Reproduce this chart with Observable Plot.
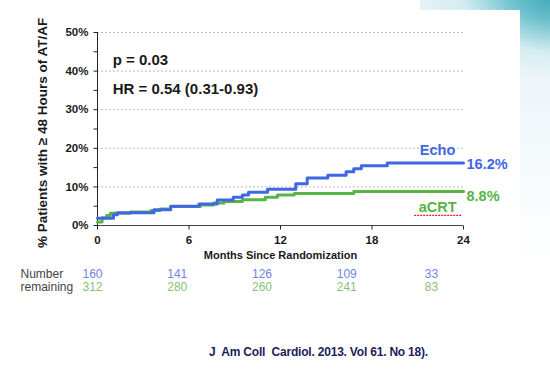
<!DOCTYPE html>
<html>
<head>
<meta charset="utf-8">
<script src="https://cdn.jsdelivr.net/npm/d3@7"></script>
<script src="https://cdn.jsdelivr.net/npm/@observablehq/plot@0.6"></script>
<style>
  html, body { margin: 0; padding: 0; background: #fff; }
  #page { position: relative; width: 550px; height: 386px; overflow: hidden;
    font-family: "Liberation Sans", Arial, sans-serif;
    background:
      radial-gradient(ellipse 140px 90px at 560px -10px, #2f9fb0 0%, #6cc0cc 35%, rgba(200,232,238,0.6) 70%, rgba(255,255,255,0) 100%),
      linear-gradient(to bottom, #e6f1f6 0%, #ffffff 70%);
  }
  #panel { position: absolute; left: 0; top: 10px; width: 520px; height: 376px; background: #fff; }
  #panel2 { position: absolute; left: 0; top: 0; width: 420px; height: 12px; background: #fff; }
  #main { position: absolute; left: 0; top: 0; }
  #table { position: absolute; left: 0; top: 265px; }
  #cite { position: absolute; left: 209px; top: 345px; font-size: 12px; color: #1c1c5c;
    font-weight: bold; letter-spacing: -0.2px; white-space: pre; }
</style>
</head>
<body>
<div id="page">
  <div id="panel"></div>
  <div id="panel2"></div>
  <div id="main"></div>
  <div id="table"></div>
  <div id="cite">J  Am Coll  Cardiol. 2013. Vol 61. No 18).</div>
</div>
<script>
// Echo (blue) cumulative incidence, steps: month, percent
const echoMonths = [0, 1.05, 1.3, 3.7, 4.8, 6.65, 7.85, 8.9, 9.5, 9.9, 11.15, 13.0, 13.75, 15.1, 16.3, 16.8, 17.3, 19.0, 24];
const echoValues = [1.9, 2.8, 3.3, 4.1, 5.0, 5.6, 6.6, 7.3, 7.9, 8.6, 9.4, 10.8, 12.3, 13.0, 13.9, 14.7, 15.5, 16.2, 16.2];
// aCRT (green)
const acrtMonths = [0, 0.3, 0.6, 0.85, 2.15, 3.5, 4.1, 4.8, 6.75, 7.6, 8.3, 9.5, 11.0, 11.8, 12.9, 16.8, 24];
const acrtValues = [0.9, 2.0, 2.6, 3.2, 3.5, 3.9, 4.3, 4.9, 5.3, 5.8, 6.2, 6.7, 7.3, 7.9, 8.3, 8.8, 8.8];

const xTicks = [0, 6, 12, 18, 24];
const yTicks = [0, 10, 20, 30, 40, 50];
const yMinorTicks = [5, 15, 25, 35, 45];

const numberMonths = [0, 6, 12, 18, 24];
const echoRemaining = [160, 141, 126, 109, 33];
const acrtRemaining = [312, 280, 260, 241, 83];

const statLines = ["p = 0.03", "HR = 0.54 (0.31-0.93)"];
const yLabel = "% Patients with \u2265 48 Hours of AT/AF";
const xLabel = "Months Since Randomization";

const blue = "#3f67e4";
const green = "#56b545";

const echo = echoMonths.map((m, i) => ({month: m, value: echoValues[i]}));
const acrt = acrtMonths.map((m, i) => ({month: m, value: acrtValues[i]}));

const font = "Liberation Sans, Arial, sans-serif";
const hTick = {draw(ctx) { ctx.moveTo(-4, 0); ctx.lineTo(0, 0); }};
const vTick = {draw(ctx) { ctx.moveTo(0, 0); ctx.lineTo(0, 4); }};

const main = Plot.plot({
  width: 550,
  height: 265,
  marginLeft: 97,
  marginRight: 87,
  marginTop: 32,
  marginBottom: 40,
  style: {fontFamily: font, background: "transparent", overflow: "visible"},
  x: {type: "linear", domain: [0, 24], axis: null},
  y: {type: "linear", domain: [0, 50], axis: null},
  marks: [
    Plot.ruleY(yTicks.filter(d => d > 0), {y: d => d, stroke: "#bbb", strokeDasharray: "2,2", strokeWidth: 1}),
    Plot.ruleX([0], {x: d => d, stroke: "#222", strokeWidth: 1}),
    Plot.ruleY([0], {y: d => d, stroke: "#444", strokeWidth: 1}),
    Plot.dot(yTicks.concat(yMinorTicks), {x: () => 0, y: d => d, symbol: hTick, stroke: "#222", r: 4, strokeWidth: 1}),
    Plot.dot(xTicks, {x: d => d, y: () => 0, symbol: vTick, stroke: "#222", r: 4, strokeWidth: 1}),
    Plot.text(yTicks, {x: () => 0, y: d => d, text: d => d + "%", textAnchor: "end", dx: -9, fontSize: 11.5, fontWeight: "bold", fill: "#1a1a1a"}),
    Plot.text(xTicks, {x: d => d, y: () => 0, text: d => String(d), dy: 15, fontSize: 11.5, fontWeight: "bold", fill: "#1a1a1a"}),
    Plot.text([xLabel], {x: () => 12, y: () => 0, dy: 30, text: d => d, fontSize: 11, fontWeight: "bold", fill: "#1a1a1a"}),
    Plot.text([yLabel], {x: () => 0, y: () => 24, dx: -55, rotate: -90, text: d => d, fontSize: 13.5, fontWeight: "bold", fill: "#1a1a1a"}),
    Plot.line(acrt, {x: "month", y: "value", curve: "step-after", stroke: green, strokeWidth: 3}),
    Plot.line(echo, {x: "month", y: "value", curve: "step-after", stroke: blue, strokeWidth: 3}),
    Plot.text(statLines, {x: () => 1, y: (d, i) => [42.7, 35.4][i], text: d => d, textAnchor: "start", fontSize: 15, fontWeight: "bold", fill: "#1a1a1a"}),
    Plot.text([echo[echo.length - 1]], {x: "month", y: "value", text: d => d.value.toFixed(1) + "%", textAnchor: "start", dx: 3, dy: 1, fontSize: 14.5, fontWeight: "bold", fill: blue}),
    Plot.text([acrt[acrt.length - 1]], {x: "month", y: "value", text: d => d.value.toFixed(1) + "%", textAnchor: "start", dx: 3, dy: 5, fontSize: 14.5, fontWeight: "bold", fill: green}),
    Plot.text(["Echo"], {x: () => 22.3, y: () => 19.4, text: d => d, fontSize: 14.5, fontWeight: "bold", fill: blue}),
    Plot.text(["aCRT"], {x: () => 22.3, y: () => 4.6, text: d => d, fontSize: 14.5, fontWeight: "bold", fill: green}),
    Plot.ruleY([2.6], {y: d => d, x1: () => 20.8, x2: () => 23.9, stroke: "#e02020", strokeWidth: 1.2, strokeDasharray: "2,1"})
  ]
});
document.getElementById("main").appendChild(main);

const rows = [];
numberMonths.forEach((m, i) => {
  rows.push({month: m, group: "Echo", n: echoRemaining[i]});
  rows.push({month: m, group: "aCRT", n: acrtRemaining[i]});
});

const table = Plot.plot({
  width: 550,
  height: 30,
  marginLeft: 92,
  marginRight: 119,
  marginTop: 2,
  marginBottom: 2,
  style: {fontFamily: font, background: "transparent", overflow: "visible"},
  x: {type: "linear", domain: [0, 24], axis: null},
  y: {domain: ["Echo", "aCRT"], axis: null},
  color: {domain: ["Echo", "aCRT"], range: ["#6f86e6", "#85c278"]},
  marks: [
    Plot.text(rows, {x: "month", y: "group", text: "n", fill: "group", fontSize: 12}),
    Plot.text(["Number", "remaining"], {frameAnchor: "left", y: (d, i) => ["Echo", "aCRT"][i], text: d => d, textAnchor: "start", dx: -72, fontSize: 12, fill: "#444"})
  ]
});
document.getElementById("table").appendChild(table);
</script>
</body>
</html>
